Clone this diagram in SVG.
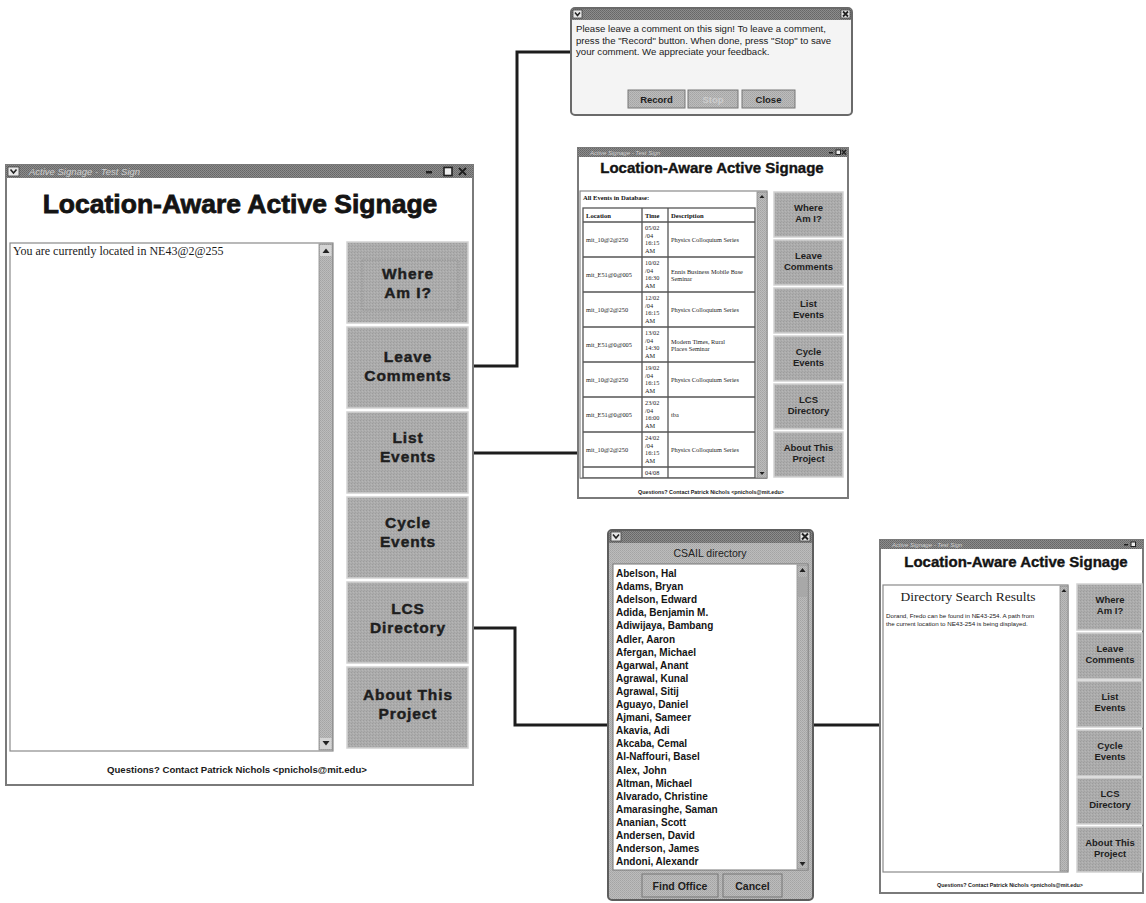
<svg xmlns="http://www.w3.org/2000/svg" width="1146" height="903" viewBox="0 0 1146 903">
  <defs>
    <!-- stippled grey used by window-manager title bars -->
    <pattern id="stip" width="2" height="2" patternUnits="userSpaceOnUse">
      <rect width="2" height="2" fill="#8c8c8c"/>
      <rect width="1" height="1" fill="#666"/>
      <rect x="1" y="1" width="1" height="1" fill="#6e6e6e"/>
    </pattern>
    <!-- lighter stipple for scrollbars and dialog bodies -->
    <pattern id="stipL" width="2" height="2" patternUnits="userSpaceOnUse">
      <rect width="2" height="2" fill="#bcbcbc"/>
      <rect width="1" height="1" fill="#a4a4a4"/>
      <rect x="1" y="1" width="1" height="1" fill="#ababab"/>
    </pattern>
    <!-- textured grey of the signage buttons -->
    <pattern id="btnTex" width="3" height="3" patternUnits="userSpaceOnUse">
      <rect width="3" height="3" fill="#acacac"/>
      <rect width="1" height="1" fill="#9c9c9c"/>
      <rect x="2" y="1" width="1" height="1" fill="#b6b6b6"/>
      <rect x="1" y="2" width="1" height="1" fill="#a2a2a2"/>
    </pattern>
  </defs>
  <style>
    .frame{fill:#fff;stroke:#7a7a7a;stroke-width:2}
    .tbar{fill:url(#stip)}
    .ttxt{font-family:"Liberation Sans",Arial,sans-serif;fill:#cfcfcf;font-style:italic}
    .pane{fill:#fff;stroke:#8a8a8a;stroke-width:1.2}
    .sbar{fill:url(#stipL);stroke:#8a8a8a;stroke-width:0.8}
    .btn{fill:url(#btnTex);stroke:#d2d2d2;stroke-width:1.5}
    .bt{font-family:"Liberation Sans",Arial,sans-serif;font-weight:bold;fill:#1e1e1e;text-anchor:middle}
    .bigbt{font-family:"Liberation Sans",Arial,sans-serif;font-weight:bold;fill:#1e1e1e;text-anchor:middle;font-size:15.5px;letter-spacing:0.9px;stroke:#1e1e1e;stroke-width:0.45}
    .head{font-family:"Liberation Sans",Arial,sans-serif;font-weight:bold;fill:#141414;text-anchor:middle;stroke:#141414}
    .foot{font-family:"Liberation Sans",Arial,sans-serif;font-weight:bold;fill:#1a1a1a;text-anchor:middle}
    .cell{font-family:"Liberation Serif","Times New Roman",serif;fill:#1a1a1a;font-size:6.3px}
    .cellb{font-family:"Liberation Serif","Times New Roman",serif;fill:#111;font-size:6.6px;font-weight:bold}
    .grid{stroke:#555;stroke-width:1.3;fill:none}
    .name{font-family:"Liberation Sans",Arial,sans-serif;font-weight:bold;font-size:10px;fill:#141414}
    .dlg{font-family:"Liberation Sans",Arial,sans-serif;font-size:9.6px;fill:#1a1a1a}
    .dbtn{fill:url(#stipL);stroke:#777;stroke-width:1}
    .ico{fill:#e8e8e8;stroke:#444;stroke-width:0.8}
    .link{fill:none;stroke:#1c1c1c;stroke-width:3}
  </style>

  <!-- ===== connectors ===== -->
  <g id="connectors">
    <polyline class="link" points="469,366 517,366 517,52 572,52"/>
    <polyline class="link" points="469,453 580,453"/>
    <polyline class="link" points="469,628 515,628 515,725 609,725"/>
    <polyline class="link" points="812,725 882,725"/>
  </g>

  <!-- ===== main signage window ===== -->
  <g id="main-window">
    <rect class="frame" x="6" y="165" width="467" height="620"/>
    <rect class="tbar" x="6" y="165" width="467" height="13"/>
    <rect class="ico" x="8" y="167" width="11" height="9"/>
    <path d="M10.5,169.5 L13.5,173 L16.5,169.5" fill="none" stroke="#222" stroke-width="1.6"/>
    <text class="ttxt" x="29" y="175" font-size="9.5">Active Signage - Test Sign</text>
    <rect x="426" y="171" width="6" height="2.5" fill="#222"/>
    <rect x="444" y="167.5" width="8" height="8" fill="#eee" stroke="#222" stroke-width="1.6"/>
    <path d="M459,168 L466,175 M466,168 L459,175" stroke="#222" stroke-width="2"/>
    <text class="head" x="240" y="213" font-size="26.5" stroke-width="0.8">Location-Aware Active Signage</text>
    <rect class="pane" x="10" y="243" width="323" height="508"/>
    <text x="13" y="255" font-family="'Liberation Serif','Times New Roman',serif" font-size="12" fill="#1a1a1a">You are currently located in NE43@2@255</text>
    <rect class="sbar" x="319" y="244" width="13.5" height="506"/>
    <rect x="320" y="245" width="11.5" height="11" fill="#d4d4d4"/>
    <path d="M322.5,253 L326,248.5 L329.5,253 Z" fill="#222"/>
    <rect x="320" y="738" width="11.5" height="11" fill="#d4d4d4"/>
    <path d="M322.5,741 L326,745.5 L329.5,741 Z" fill="#222"/>
    <text class="foot" x="237" y="773" font-size="9.6">Questions? Contact Patrick Nichols &lt;pnichols@mit.edu&gt;</text>
  </g>
  <g id="main-btn-where">
    <rect class="btn" x="347" y="242" width="121" height="81"/>
    <rect x="362" y="260" width="96" height="50" fill="none" stroke="#8e8e8e" stroke-width="0.8" stroke-dasharray="1.5,1"/>
    <text class="bigbt" x="408" y="279">Where</text>
    <text class="bigbt" x="408" y="298">Am I?</text>
  </g>
  <g id="main-btn-comments">
    <rect class="btn" x="347" y="327" width="121" height="81"/>
    <text class="bigbt" x="408" y="362">Leave</text>
    <text class="bigbt" x="408" y="381">Comments</text>
  </g>
  <g id="main-btn-list">
    <rect class="btn" x="347" y="412" width="121" height="81"/>
    <text class="bigbt" x="408" y="443">List</text>
    <text class="bigbt" x="408" y="462">Events</text>
  </g>
  <g id="main-btn-cycle">
    <rect class="btn" x="347" y="497" width="121" height="81"/>
    <text class="bigbt" x="408" y="528">Cycle</text>
    <text class="bigbt" x="408" y="547">Events</text>
  </g>
  <g id="main-btn-lcs">
    <rect class="btn" x="347" y="582" width="121" height="81"/>
    <text class="bigbt" x="408" y="614">LCS</text>
    <text class="bigbt" x="408" y="633">Directory</text>
  </g>
  <g id="main-btn-about">
    <rect class="btn" x="347" y="667" width="121" height="81"/>
    <text class="bigbt" x="408" y="700">About This</text>
    <text class="bigbt" x="408" y="719">Project</text>
  </g>

  <!-- ===== comment dialog ===== -->
  <g id="comment-dialog">
    <rect x="571" y="8" width="281" height="107" rx="4" fill="#f4f4f4" stroke="#6a6a6a" stroke-width="2"/>
    <rect class="tbar" x="572" y="9" width="279" height="11"/>
    <rect class="ico" x="573" y="10" width="9" height="8"/>
    <path d="M575,12.5 L577.5,15.5 L580,12.5" fill="none" stroke="#222" stroke-width="1.5"/>
    <rect class="ico" x="841" y="10" width="9" height="8"/>
    <path d="M843,11.5 L848,16.5 M848,11.5 L843,16.5" stroke="#222" stroke-width="1.8"/>
    <text class="dlg" x="576" y="32">Please leave a comment on this sign!  To leave a comment,</text>
    <text class="dlg" x="576" y="44">press the "Record" button.  When done, press "Stop" to save</text>
    <text class="dlg" x="576" y="55">your comment.  We appreciate your feedback.</text>
    <rect class="dbtn" x="628" y="90" width="57" height="18"/>
    <text class="bt" x="656.5" y="102.5" font-size="9.5">Record</text>
    <rect class="dbtn" x="688" y="90" width="50" height="18"/>
    <text class="bt" x="713" y="102.5" font-size="9.5" style="fill:#cdcdcd">Stop</text>
    <rect class="dbtn" x="742" y="90" width="53" height="18"/>
    <text class="bt" x="768.5" y="102.5" font-size="9.5">Close</text>
  </g>

  <!-- ===== events listing window ===== -->
  <g id="events-window">
    <rect class="frame" x="578" y="148" width="270" height="350"/>
    <rect class="tbar" x="578" y="148" width="270" height="9"/>
    <text class="ttxt" x="590" y="155" font-size="6">Active Signage - Test Sign</text>
    <rect x="829" y="152" width="4" height="1.5" fill="#222"/>
    <rect x="836" y="150" width="4.5" height="4.5" fill="#eee" stroke="#222" stroke-width="1"/>
    <path d="M842,150 L846,154.5 M846,150 L842,154.5" stroke="#222" stroke-width="1.3"/>
    <text class="head" x="712" y="173" font-size="15" stroke-width="0.4">Location-Aware Active Signage</text>
    <rect class="pane" x="580" y="191" width="187" height="287"/>
    <rect class="sbar" x="757" y="192" width="10" height="286"/>
    <path d="M759.5,198 L762,195 L764.5,198 Z" fill="#222"/>
    <path d="M759.5,472 L762,475 L764.5,472 Z" fill="#222"/>
    <text class="cellb" x="583" y="200">All Events in Database:</text>
    <!-- table grid -->
    <rect class="grid" x="583" y="208" width="172" height="270"/>
    <path class="grid" d="M642,208 V478 M668,208 V478 M583,222 H755 M583,257 H755 M583,292 H755 M583,327 H755 M583,362 H755 M583,397 H755 M583,432 H755 M583,467 H755"/>
    <text class="cellb" x="586" y="217.5">Location</text>
    <text class="cellb" x="645" y="217.5">Time</text>
    <text class="cellb" x="671" y="217.5">Description</text>
    <!-- row 1 -->
    <text class="cell" x="586" y="242">mit_10@2@250</text>
    <text class="cell" x="645" y="230">05/02</text><text class="cell" x="645" y="237.5">/04</text><text class="cell" x="645" y="245">16:15</text><text class="cell" x="645" y="252.5">AM</text>
    <text class="cell" x="671" y="242">Physics Colloquium Series</text>
    <!-- row 2 -->
    <text class="cell" x="586" y="277">mit_E51@0@005</text>
    <text class="cell" x="645" y="265">10/02</text><text class="cell" x="645" y="272.5">/04</text><text class="cell" x="645" y="280">16:30</text><text class="cell" x="645" y="287.5">AM</text>
    <text class="cell" x="671" y="274">Ennis Business Mobile Base</text>
    <text class="cell" x="671" y="281">Seminar</text>
    <!-- row 3 -->
    <text class="cell" x="586" y="312">mit_10@2@250</text>
    <text class="cell" x="645" y="300">12/02</text><text class="cell" x="645" y="307.5">/04</text><text class="cell" x="645" y="315">16:15</text><text class="cell" x="645" y="322.5">AM</text>
    <text class="cell" x="671" y="312">Physics Colloquium Series</text>
    <!-- row 4 -->
    <text class="cell" x="586" y="347">mit_E51@0@005</text>
    <text class="cell" x="645" y="335">13/02</text><text class="cell" x="645" y="342.5">/04</text><text class="cell" x="645" y="350">14:30</text><text class="cell" x="645" y="357.5">AM</text>
    <text class="cell" x="671" y="344">Modern Times, Rural</text>
    <text class="cell" x="671" y="351">Places Seminar</text>
    <!-- row 5 -->
    <text class="cell" x="586" y="382">mit_10@2@250</text>
    <text class="cell" x="645" y="370">19/02</text><text class="cell" x="645" y="377.5">/04</text><text class="cell" x="645" y="385">16:15</text><text class="cell" x="645" y="392.5">AM</text>
    <text class="cell" x="671" y="382">Physics Colloquium Series</text>
    <!-- row 6 -->
    <text class="cell" x="586" y="417">mit_E51@0@005</text>
    <text class="cell" x="645" y="405">23/02</text><text class="cell" x="645" y="412.5">/04</text><text class="cell" x="645" y="420">16:00</text><text class="cell" x="645" y="427.5">AM</text>
    <text class="cell" x="671" y="417">tba</text>
    <!-- row 7 -->
    <text class="cell" x="586" y="452">mit_10@2@250</text>
    <text class="cell" x="645" y="440">24/02</text><text class="cell" x="645" y="447.5">/04</text><text class="cell" x="645" y="455">16:15</text><text class="cell" x="645" y="462.5">AM</text>
    <text class="cell" x="671" y="452">Physics Colloquium Series</text>
    <!-- row 8 (cut off by the pane) -->
    <text class="cell" x="645" y="475">04/08</text>
    <rect x="579" y="479" width="268" height="18" fill="#fff"/>
    <line x1="580" y1="478.5" x2="767" y2="478.5" stroke="#8a8a8a" stroke-width="1"/>
    <text class="foot" x="711" y="494" font-size="5.4">Questions? Contact Patrick Nichols &lt;pnichols@mit.edu&gt;</text>
  </g>
  <g id="events-buttons">
    <rect class="btn" x="774" y="192" width="69" height="45"/>
    <text class="bt" x="808.5" y="211" font-size="9.5">Where</text>
    <text class="bt" x="808.5" y="222" font-size="9.5">Am I?</text>
    <rect class="btn" x="774" y="240" width="69" height="45"/>
    <text class="bt" x="808.5" y="259" font-size="9.5">Leave</text>
    <text class="bt" x="808.5" y="270" font-size="9.5">Comments</text>
    <rect class="btn" x="774" y="288" width="69" height="45"/>
    <text class="bt" x="808.5" y="307" font-size="9.5">List</text>
    <text class="bt" x="808.5" y="318" font-size="9.5">Events</text>
    <rect class="btn" x="774" y="336" width="69" height="45"/>
    <text class="bt" x="808.5" y="355" font-size="9.5">Cycle</text>
    <text class="bt" x="808.5" y="366" font-size="9.5">Events</text>
    <rect class="btn" x="774" y="384" width="69" height="45"/>
    <text class="bt" x="808.5" y="403" font-size="9.5">LCS</text>
    <text class="bt" x="808.5" y="414" font-size="9.5">Directory</text>
    <rect class="btn" x="774" y="432" width="69" height="45"/>
    <text class="bt" x="808.5" y="451" font-size="9.5">About This</text>
    <text class="bt" x="808.5" y="462" font-size="9.5">Project</text>
  </g>

  <!-- ===== CSAIL directory picker ===== -->
  <g id="csail-directory">
    <rect x="608" y="530" width="205" height="370" rx="4" fill="url(#stipL)" stroke="#5e5e5e" stroke-width="2"/>
    <rect class="tbar" x="609" y="531" width="203" height="12"/>
    <rect class="ico" x="611" y="532" width="10" height="9"/>
    <path d="M613,534.5 L616,538 L619,534.5" fill="none" stroke="#222" stroke-width="1.6"/>
    <rect class="ico" x="800" y="532" width="10" height="9"/>
    <path d="M802,533.5 L808,539.5 M808,533.5 L802,539.5" stroke="#222" stroke-width="2"/>
    <text x="710" y="557" text-anchor="middle" font-family="'Liberation Sans',Arial,sans-serif" font-size="10.5" fill="#222">CSAIL directory</text>
    <rect x="613" y="564" width="195" height="306" fill="#fff" stroke="#777" stroke-width="1"/>
    <rect class="sbar" x="797" y="565" width="11" height="304"/>
    <rect x="798" y="577" width="9" height="20" fill="#a8a8a8"/>
    <path d="M799.5,572 L802.5,568 L805.5,572 Z" fill="#222"/>
    <path d="M799.5,862 L802.5,866 L805.5,862 Z" fill="#222"/>
    <text class="name" x="616" y="577">Abelson, Hal</text>
    <text class="name" x="616" y="590.1">Adams, Bryan</text>
    <text class="name" x="616" y="603.2">Adelson, Edward</text>
    <text class="name" x="616" y="616.3">Adida, Benjamin M.</text>
    <text class="name" x="616" y="629.4">Adiwijaya, Bambang</text>
    <text class="name" x="616" y="642.5">Adler, Aaron</text>
    <text class="name" x="616" y="655.6">Afergan, Michael</text>
    <text class="name" x="616" y="668.7">Agarwal, Anant</text>
    <text class="name" x="616" y="681.8">Agrawal, Kunal</text>
    <text class="name" x="616" y="694.9">Agrawal, Sitij</text>
    <text class="name" x="616" y="708">Aguayo, Daniel</text>
    <text class="name" x="616" y="721.1">Ajmani, Sameer</text>
    <text class="name" x="616" y="734.2">Akavia, Adi</text>
    <text class="name" x="616" y="747.3">Akcaba, Cemal</text>
    <text class="name" x="616" y="760.4">Al-Naffouri, Basel</text>
    <text class="name" x="616" y="773.5">Alex, John</text>
    <text class="name" x="616" y="786.6">Altman, Michael</text>
    <text class="name" x="616" y="799.7">Alvarado, Christine</text>
    <text class="name" x="616" y="812.8">Amarasinghe, Saman</text>
    <text class="name" x="616" y="825.9">Ananian, Scott</text>
    <text class="name" x="616" y="839">Andersen, David</text>
    <text class="name" x="616" y="852.1">Anderson, James</text>
    <text class="name" x="616" y="865.2">Andoni, Alexandr</text>
    <rect class="dbtn" x="642" y="874" width="76" height="23"/>
    <text class="bt" x="680" y="889.5" font-size="10.5">Find Office</text>
    <rect class="dbtn" x="723" y="874" width="59" height="23"/>
    <text class="bt" x="752.5" y="889.5" font-size="10.5">Cancel</text>
  </g>

  <!-- ===== directory search results window ===== -->
  <g id="search-results-window">
    <rect class="frame" x="880" y="540" width="263" height="353"/>
    <rect class="tbar" x="880" y="540" width="263" height="9"/>
    <text class="ttxt" x="892" y="547" font-size="6">Active Signage - Test Sign</text>
    <rect x="1124" y="544" width="4" height="1.5" fill="#222"/>
    <rect x="1131" y="542" width="4.5" height="4.5" fill="#eee" stroke="#222" stroke-width="1"/>
    <text class="head" x="1016" y="567" font-size="15" stroke-width="0.4">Location-Aware Active Signage</text>
    <rect class="pane" x="883" y="585" width="185" height="287"/>
    <rect class="sbar" x="1060" y="586" width="8" height="285"/>
    <path d="M1061.5,592 L1064,589 L1066.5,592 Z" fill="#222"/>
    <text x="968" y="601" text-anchor="middle" font-family="'Liberation Serif','Times New Roman',serif" font-size="13.5" fill="#1a1a1a">Directory Search Results</text>
    <text x="886" y="618" font-family="'Liberation Sans',Arial,sans-serif" font-size="6.2" fill="#1a1a1a">Dorand, Fredo can be found in NE43-254. A path from</text>
    <text x="886" y="626" font-family="'Liberation Sans',Arial,sans-serif" font-size="6.2" fill="#1a1a1a">the current location to NE43-254 is being displayed.</text>
    <text class="foot" x="1010" y="887" font-size="5.4">Questions? Contact Patrick Nichols &lt;pnichols@mit.edu&gt;</text>
  </g>
  <g id="search-results-buttons">
    <rect class="btn" x="1077" y="584" width="65" height="46"/>
    <text class="bt" x="1110" y="603" font-size="9.5">Where</text>
    <text class="bt" x="1110" y="614" font-size="9.5">Am I?</text>
    <rect class="btn" x="1077" y="633" width="65" height="46"/>
    <text class="bt" x="1110" y="652" font-size="9.5">Leave</text>
    <text class="bt" x="1110" y="663" font-size="9.5">Comments</text>
    <rect class="btn" x="1077" y="681" width="65" height="46"/>
    <text class="bt" x="1110" y="700" font-size="9.5">List</text>
    <text class="bt" x="1110" y="711" font-size="9.5">Events</text>
    <rect class="btn" x="1077" y="730" width="65" height="46"/>
    <text class="bt" x="1110" y="749" font-size="9.5">Cycle</text>
    <text class="bt" x="1110" y="760" font-size="9.5">Events</text>
    <rect class="btn" x="1077" y="778" width="65" height="46"/>
    <text class="bt" x="1110" y="797" font-size="9.5">LCS</text>
    <text class="bt" x="1110" y="808" font-size="9.5">Directory</text>
    <rect class="btn" x="1077" y="827" width="65" height="45"/>
    <text class="bt" x="1110" y="846" font-size="9.5">About This</text>
    <text class="bt" x="1110" y="857" font-size="9.5">Project</text>
  </g>
</svg>
